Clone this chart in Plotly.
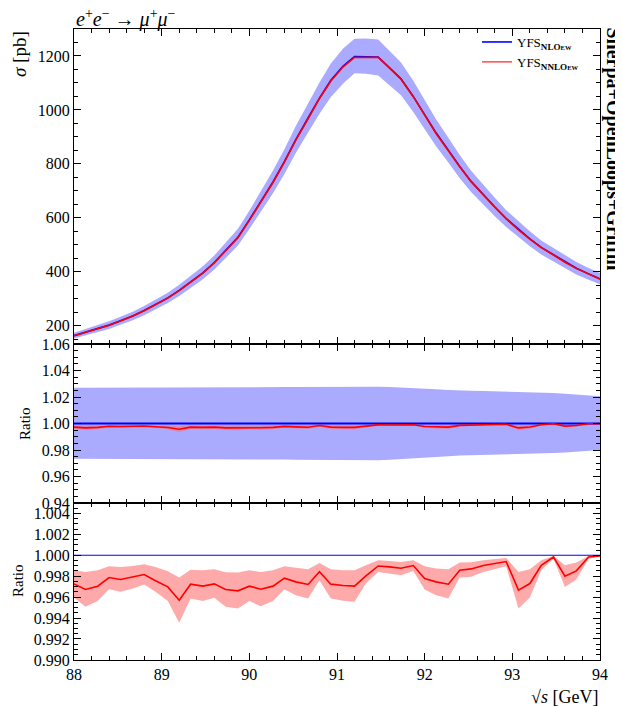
import plotly.graph_objects as go
from plotly.subplots import make_subplots

# ---------------- data ----------------
sqrt_s = [88.00, 88.13, 88.27, 88.40, 88.53, 88.67, 88.80, 88.93, 89.07, 89.20,
          89.33, 89.47, 89.60, 89.73, 89.87, 90.00, 90.13, 90.27, 90.40, 90.53,
          90.67, 90.80, 90.93, 91.07, 91.20, 91.33, 91.47, 91.60, 91.73, 91.87,
          92.00, 92.13, 92.27, 92.40, 92.53, 92.67, 92.80, 92.93, 93.07, 93.20,
          93.33, 93.47, 93.60, 93.73, 93.87, 94.00]

sigma_nlo = [163, 175, 188, 202, 218, 236, 256, 278, 303, 331,
             362, 396, 434, 478, 528, 592, 660, 733, 808, 890,
             970, 1044, 1110, 1163, 1198, 1197, 1196, 1156, 1115, 1050,
             983, 915, 851, 790, 735, 685, 640, 597, 557, 522,
             490, 462, 436, 413, 392, 373]

sigma_nlo_up = [174, 187, 201, 216, 233, 252, 273, 296, 322, 352,
                384, 420, 460, 507, 559, 626, 698, 775, 854, 940,
                1024, 1102, 1172, 1228, 1264, 1265, 1261, 1218, 1176, 1108,
                1037, 965, 897, 833, 774, 721, 674, 628, 586, 550,
                516, 487, 460, 436, 414, 395]

sigma_nlo_dn = [152, 163, 175, 188, 203, 220, 239, 260, 284, 310,
                340, 372, 408, 449, 497, 558, 622, 691, 762, 840,
                916, 986, 1048, 1098, 1136, 1134, 1128, 1090, 1054, 992,
                929, 865, 805, 747, 696, 649, 606, 566, 528, 494,
                464, 437, 412, 390, 370, 354]

# NNLO / NLO ratio and its band
ratio_nnlo = [0.99727, 0.99673, 0.99705, 0.99787, 0.99768, 0.99794, 0.99816, 0.99756, 0.99698, 0.99571,
              0.99724, 0.99705, 0.99727, 0.99673, 0.99660, 0.99705, 0.99676, 0.99705, 0.99781, 0.99746,
              0.99721, 0.99844, 0.99724, 0.99711, 0.99705, 0.99803, 0.99898, 0.99889, 0.99876, 0.99902,
              0.99778, 0.99746, 0.99724, 0.99857, 0.99870, 0.99902, 0.99921, 0.99940, 0.99667, 0.99730,
              0.99905, 0.99984, 0.99800, 0.99851, 0.99984, 0.99994]

ratio_nnlo_up = [0.99857, 0.99841, 0.99857, 0.99895, 0.99889, 0.99898, 0.99914, 0.99889, 0.99848, 0.99787,
                 0.99863, 0.99857, 0.99867, 0.99838, 0.99835, 0.99857, 0.99841, 0.99857, 0.99895, 0.99879,
                 0.99867, 0.99927, 0.99867, 0.99857, 0.99857, 0.99905, 0.99952, 0.99946, 0.99937, 0.99952,
                 0.99895, 0.99873, 0.99867, 0.99930, 0.99933, 0.99952, 0.99962, 0.99975, 0.99841, 0.99867,
                 0.99952, 0.99994, 0.99905, 0.99930, 0.99994, 1.00000]

ratio_nnlo_dn = [0.99597, 0.99508, 0.99562, 0.99676, 0.99651, 0.99683, 0.99721, 0.99651, 0.99562, 0.99356,
                 0.99587, 0.99562, 0.99594, 0.99508, 0.99492, 0.99562, 0.99514, 0.99562, 0.99676, 0.99619,
                 0.99587, 0.99762, 0.99587, 0.99565, 0.99556, 0.99730, 0.99841, 0.99825, 0.99810, 0.99851,
                 0.99673, 0.99619, 0.99587, 0.99787, 0.99794, 0.99841, 0.99867, 0.99895, 0.99492, 0.99597,
                 0.99857, 0.99968, 0.99698, 0.99768, 0.99968, 0.99990]

# NLO / NLO ratio and its band
ratio_nlo = [1.0] * len(sqrt_s)

ratio_nlo_up = [1.0270, 1.0270, 1.0270, 1.0270, 1.0270, 1.0270, 1.0270, 1.0270, 1.0270, 1.0270,
                1.0270, 1.0270, 1.0270, 1.0270, 1.0270, 1.0270, 1.0272, 1.0274, 1.0275, 1.0276,
                1.0277, 1.0277, 1.0278, 1.0278, 1.0279, 1.0279, 1.0278, 1.0275, 1.0272, 1.0268,
                1.0263, 1.0258, 1.0253, 1.0248, 1.0247, 1.0246, 1.0244, 1.0242, 1.0240, 1.0237,
                1.0234, 1.0230, 1.0224, 1.0217, 1.0210, 1.0205]

ratio_nlo_dn = [0.9733, 0.9733, 0.9733, 0.9733, 0.9733, 0.9733, 0.9733, 0.9733, 0.9733, 0.9733,
                0.9733, 0.9733, 0.9733, 0.9733, 0.9733, 0.9733, 0.9731, 0.9729, 0.9728, 0.9726,
                0.9725, 0.9724, 0.9723, 0.9723, 0.9722, 0.9722, 0.9723, 0.9727, 0.9731, 0.9736,
                0.9741, 0.9746, 0.9752, 0.9758, 0.9760, 0.9762, 0.9764, 0.9766, 0.9768, 0.9770,
                0.9773, 0.9777, 0.9782, 0.9788, 0.9795, 0.9800]

sigma_nnlo = [a * r for a, r in zip(sigma_nlo, ratio_nnlo)]

# ---------------- style ----------------
BLUE = "#0000ff"
RED = "#ff0000"
BLUE_BAND = "#aaaaff"
RED_BAND = "#ffaaaa"
FONT = "Liberation Serif"

fig = make_subplots(rows=3, cols=1, shared_xaxes=True, vertical_spacing=0,
                    row_heights=[315, 159, 157])


def band(x, lo, hi, color, row):
    fig.add_trace(go.Scatter(x=x, y=lo, mode="lines", line=dict(width=0),
                             showlegend=False, hoverinfo="skip"), row=row, col=1)
    fig.add_trace(go.Scatter(x=x, y=hi, mode="lines", line=dict(width=0),
                             fill="tonexty", fillcolor=color,
                             showlegend=False, hoverinfo="skip"), row=row, col=1)


# top panel
band(sqrt_s, sigma_nlo_dn, sigma_nlo_up, BLUE_BAND, 1)
fig.add_trace(go.Scatter(x=sqrt_s, y=sigma_nlo, mode="lines",
                         line=dict(color=BLUE, width=1.6), showlegend=False), row=1, col=1)
fig.add_trace(go.Scatter(x=sqrt_s, y=sigma_nnlo, mode="lines",
                         line=dict(color=RED, width=1.6), showlegend=False), row=1, col=1)

# legend entries
fig.add_trace(go.Scatter(x=[None], y=[None], mode="lines",
                         line=dict(color=BLUE, width=1.6),
                         name="YFS<sub><b>NLO<span style='font-size:6.5px'>EW</span></b></sub>"),
              row=1, col=1)
fig.add_trace(go.Scatter(x=[None], y=[None], mode="lines",
                         line=dict(color="#ff5555", width=1.6),
                         name="YFS<sub><b>NNLO<span style='font-size:6.5px'>EW</span></b></sub>"),
              row=1, col=1)

# middle panel
band(sqrt_s, ratio_nlo_dn, ratio_nlo_up, BLUE_BAND, 2)
band(sqrt_s, ratio_nnlo_dn, ratio_nnlo_up, "rgba(255,110,110,0.55)", 2)
fig.add_trace(go.Scatter(x=sqrt_s, y=ratio_nlo, mode="lines",
                         line=dict(color=BLUE, width=2.2), showlegend=False), row=2, col=1)
fig.add_trace(go.Scatter(x=sqrt_s, y=ratio_nnlo, mode="lines",
                         line=dict(color=RED, width=1.6), showlegend=False), row=2, col=1)

# bottom panel
band(sqrt_s, ratio_nnlo_dn, ratio_nnlo_up, RED_BAND, 3)
fig.add_trace(go.Scatter(x=sqrt_s, y=ratio_nlo, mode="lines",
                         line=dict(color=BLUE, width=1.1), showlegend=False), row=3, col=1)
fig.add_trace(go.Scatter(x=sqrt_s, y=ratio_nnlo, mode="lines",
                         line=dict(color=RED, width=1.6), showlegend=False), row=3, col=1)

axis_common = dict(showline=True, linecolor="black", linewidth=1.3, mirror="allticks",
                   ticks="inside", tickcolor="black", tickwidth=1.3, ticklen=7,
                   showgrid=False, zeroline=False)

for r in (1, 2, 3):
    fig.update_xaxes(range=[88, 94], tick0=88, dtick=1,
                     minor=dict(ticks="inside", ticklen=4, dtick=0.2, tickcolor="black",
                                tickwidth=1, showgrid=False),
                     showticklabels=(r == 3), row=r, col=1, **axis_common)

fig.update_yaxes(range=[132, 1300], tick0=0, dtick=200,
                 minor=dict(ticks="inside", ticklen=4, dtick=50, tickcolor="black",
                            tickwidth=1, showgrid=False),
                 row=1, col=1, **axis_common)
fig.update_yaxes(range=[0.93999, 1.06001], tick0=0.94, dtick=0.02, tickformat=".2f",
                 minor=dict(ticks="inside", ticklen=4, dtick=0.005, tickcolor="black",
                            tickwidth=1, showgrid=False),
                 row=2, col=1, **axis_common)
fig.update_yaxes(range=[0.98999, 1.005], tick0=0.99, dtick=0.002, tickformat=".3f",
                 minor=dict(ticks="inside", ticklen=4, dtick=0.0005, tickcolor="black",
                            tickwidth=1, showgrid=False),
                 row=3, col=1, **axis_common)

# the page body adds an 8 px offset; the figure is sized so that the plot
# area lands at the reference window position
OFF = 8
W, H = 623 - OFF, 707 - OFF
L, R, T, B = 74 - OFF, 23, 29 - OFF, 47
pw, ph = W - L - R, H - T - B


def px_x(wx):
    return (wx - OFF - L) / pw


def px_y(wy):
    return 1 - (wy - OFF - T) / ph


annotations = [
    dict(text="<i>e</i><sup>+</sup><i>e</i><sup>−</sup> → <i>μ</i><sup>+</sup><i>μ</i><sup>−</sup>",
         x=0, y=1, xanchor="left", yanchor="bottom", yshift=-4, font=dict(size=20)),
    dict(text="<i>σ</i> [pb]", textangle=-90, x=px_x(19), y=px_y(29),
         xanchor="center", yanchor="top", font=dict(size=19)),
    dict(text="Ratio", textangle=-90, x=px_x(25), y=px_y(424),
         xanchor="center", yanchor="middle", font=dict(size=15)),
    dict(text="Ratio", textangle=-90, x=px_x(18), y=px_y(581),
         xanchor="center", yanchor="middle", font=dict(size=15)),
    dict(text="<b>Sherpa+OpenLoops+Griffin</b>", textangle=90, x=px_x(613), y=px_y(25),
         xanchor="center", yanchor="top", font=dict(size=20)),
    dict(text="√<i>s</i> [GeV]",
         x=1, y=px_y(697), xanchor="right", yanchor="middle", font=dict(size=18)),
]
for a in annotations:
    a.update(xref="paper", yref="paper", showarrow=False)

fig.update_layout(
    width=W, height=H,
    margin=dict(l=L, r=R, t=T, b=B),
    paper_bgcolor="white", plot_bgcolor="white",
    font=dict(family=FONT, size=16, color="black"),
    annotations=annotations,
    legend=dict(x=px_x(477), y=px_y(27), xanchor="left", yanchor="top",
                bgcolor="rgba(0,0,0,0)", font=dict(size=13), itemwidth=30,
                traceorder="normal", tracegroupgap=0),
    showlegend=True,
)

fig.write_html("out.html")
